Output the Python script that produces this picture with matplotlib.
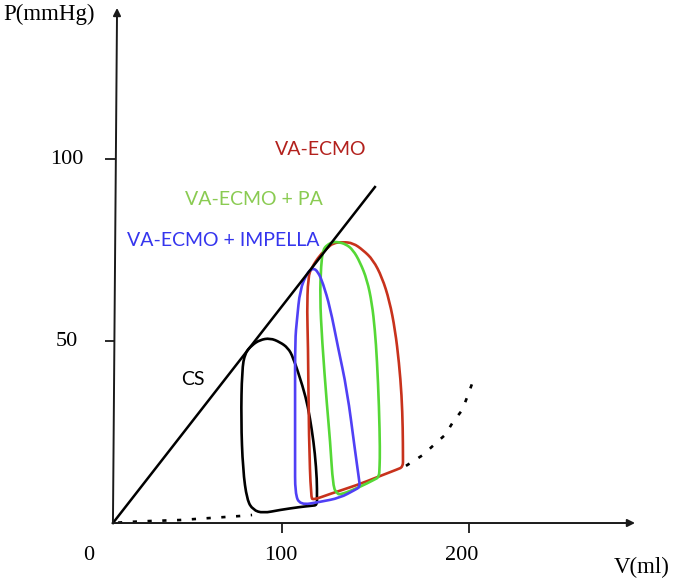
"""Pressure-volume loops: cardiogenic shock vs VA-ECMO variants."""

import matplotlib

matplotlib.use("Agg")
import matplotlib.pyplot as plt
from matplotlib.path import Path
from matplotlib.patches import PathPatch

# ---- data (volume in ml, pressure in mmHg) ----
cs_vol = [118.7, 116.0, 109.6, 98.9, 89.8, 84.5, 81.3, 79.1, 78.1, 78.6, 80.2,
          84.0, 88.2, 93.6, 98.9, 103.2, 105.9, 111.2, 113.9, 116.0, 117.6,
          118.7, 118.7, 118.7]
cs_pres = [4.9, 4.75, 4.4, 3.6, 2.7, 3.6, 6.3, 14.6, 28.3, 42.0, 46.7,
           48.9, 50.3, 50.8, 49.7, 48.1, 45.6, 37.4, 31.9, 25.5, 19.2,
           11.8, 7.0, 4.9]

impella_vol = [141.7, 139.0, 131.0, 120.3, 109.6, 107.0, 107.0, 107.0, 107.0,
               108.0, 109.6, 113.4, 116.6, 119.3, 121.9, 125.7, 129.9, 134.8,
               139.0, 141.2, 141.7]
impella_pres = [9.9, 9.1, 6.9, 5.8, 4.9, 8.2, 17.3, 33.8, 50.3,
                55.8, 64.0, 68.7, 70.1, 69.0, 65.9, 59.3, 48.4, 36.5,
                20.1, 12.0, 9.9]

ecmo_vol = [116.6, 115.5, 114.4, 113.9, 113.4, 113.9, 116.0, 120.3, 124.1, 127.3,
            132.6, 138.0, 143.3, 148.7, 153.5, 157.5, 160.5, 162.6, 164.0, 164.6,
            164.7, 164.7, 161.5, 152.4, 140.1, 125.7, 116.6]
ecmo_pres = [6.3, 7.1, 22.8, 50.3, 57.7, 67.6, 70.3, 73.6, 75.5, 76.9,
             77.2, 76.9, 75.0, 72.3, 67.5, 61.0, 53.0, 44.0, 35.0, 26.0,
             18.0, 15.4, 14.7, 12.9, 10.4, 8.0, 6.3]

pa_vol = [151.9, 149.3, 141.7, 131.0, 129.4, 127.3, 125.7, 124.1, 121.4, 120.3,
          120.9, 121.9, 124.1, 127.3, 129.9, 134.2, 138.0, 141.7, 145.5, 148.1,
          149.7, 150.8, 151.9, 152.4, 152.2, 151.9]
pa_pres = [12.6, 11.9, 9.9, 7.7, 8.2, 9.9, 22.8, 31.9, 50.3, 62.1,
           70.9, 75.0, 76.4, 77.2, 77.2, 76.6, 75.0, 71.7, 66.8, 60.4,
           53.0, 44.8, 31.9, 20.1, 15.5, 12.6]

# end-systolic pressure-volume relation (straight line)
espvr_vol = [9.6, 149.7]
espvr_pres = [0.0, 92.3]

# end-diastolic pressure-volume relation, visible parts only
edpvr_low_vol = [12.3, 17.1, 29.4, 45.5, 61.5, 77.5, 84.0]
edpvr_low_pres = [0.1, 0.27, 0.55, 0.82, 1.37, 1.92, 2.2]
edpvr_high_vol = [166.3, 175.4, 180.7, 187.2, 191.4, 196.3, 199.5, 202.7]
edpvr_high_pres = [15.7, 18.7, 21.2, 24.2, 27.7, 31.0, 35.2, 39.8]

x_ticks = [100, 200]
y_ticks = [50, 100]
x_tick_labels = ["0", "100", "200"]
y_tick_labels = ["50", "100"]


def smooth_loop(xs, ys):
    """Closed quadratic-Bezier path using the read points as control points."""
    pts = list(zip(xs, ys))
    if pts[0] == pts[-1]:
        pts = pts[:-1]
    n = len(pts)
    mids = [((pts[i][0] + pts[(i + 1) % n][0]) / 2,
             (pts[i][1] + pts[(i + 1) % n][1]) / 2) for i in range(n)]
    verts = [mids[-1]]
    codes = [Path.MOVETO]
    for i in range(n):
        verts += [pts[i], mids[i]]
        codes += [Path.CURVE3, Path.CURVE3]
    return Path(verts, codes)


# ---- figure ----
fig = plt.figure(figsize=(6.73, 5.83), dpi=100)
ax = fig.add_axes([0, 0, 1, 1])
ax.set_xlim(-50.8, 309.1)
ax.set_ylim(-16.48, 143.68)
ax.axis("off")

serif = "Liberation Serif"
sans = "Lato"
axis_col = "#1a1a1a"

# axes with arrow heads
origin = (9.6, 0.0)
ax.annotate("", xy=(11.8, 141.5), xytext=origin,
            arrowprops=dict(arrowstyle="-|>", color=axis_col, lw=1.4,
                            mutation_scale=11, shrinkA=0, shrinkB=0))
ax.annotate("", xy=(288.8, 0.0), xytext=origin,
            arrowprops=dict(arrowstyle="-|>", color=axis_col, lw=1.4,
                            mutation_scale=11, shrinkA=0, shrinkB=0))

for xt in x_ticks:
    ax.plot([xt, xt], [0, -2.8], color=axis_col, lw=1.3, solid_capstyle="butt")
for yt in y_ticks:
    x_axis_here = 9.6 + 2.2 * yt / 141.5
    ax.plot([5.3, x_axis_here], [yt, yt], color=axis_col, lw=1.3,
            solid_capstyle="butt")

for pos, lab in zip([-3.2, 99.5, 196.3], x_tick_labels):
    ax.text(pos, -9.0, lab, family=serif, fontsize=16, ha="center", va="center")
for pos, lab in zip(y_ticks, y_tick_labels):
    ax.text(-15.0, pos, lab, family=serif, fontsize=16, ha="center", va="center")

ax.text(-24.6, 139.6, "P(mmHg)", family=serif, fontsize=16.5,
        ha="center", va="center")
ax.text(292.5, -12.1, "V(ml)", family=serif, fontsize=16.5,
        ha="center", va="center")

# relations
ax.plot(espvr_vol, espvr_pres, color="black", lw=1.8)
ax.plot(edpvr_low_vol, edpvr_low_pres, color="black", lw=1.9,
        linestyle=(0, (1.6, 4.0)))
ax.plot(edpvr_high_vol, edpvr_high_pres, color="black", lw=1.9,
        linestyle=(0, (1.6, 4.0)))

# loops
loops = [
    (cs_vol, cs_pres, "black"),
    (ecmo_vol, ecmo_pres, "#c8321c"),
    (pa_vol, pa_pres, "#55d836"),
    (impella_vol, impella_pres, "#5040f5"),
]
for vol, pres, col in loops:
    ax.add_patch(PathPatch(smooth_loop(vol, pres), fill=False, edgecolor=col,
                           lw=1.9, joinstyle="round"))

# labels
ax.text(120.9, 102.5, "VA-ECMO", family=sans, fontsize=14, color="#b3211d",
        ha="center", va="center")
ax.text(85.0, 89.0, "VA-ECMO + PA", family=sans, fontsize=14, color="#8acb52",
        ha="center", va="center")
ax.text(68.4, 77.5, "VA-ECMO + IMPELLA", family=sans, fontsize=14,
        color="#3535ee", ha="center", va="center")
ax.text(52.4, 39.3, "CS", family=sans, fontsize=14, color="black",
        ha="center", va="center")

fig.savefig("out.png", dpi=100)
